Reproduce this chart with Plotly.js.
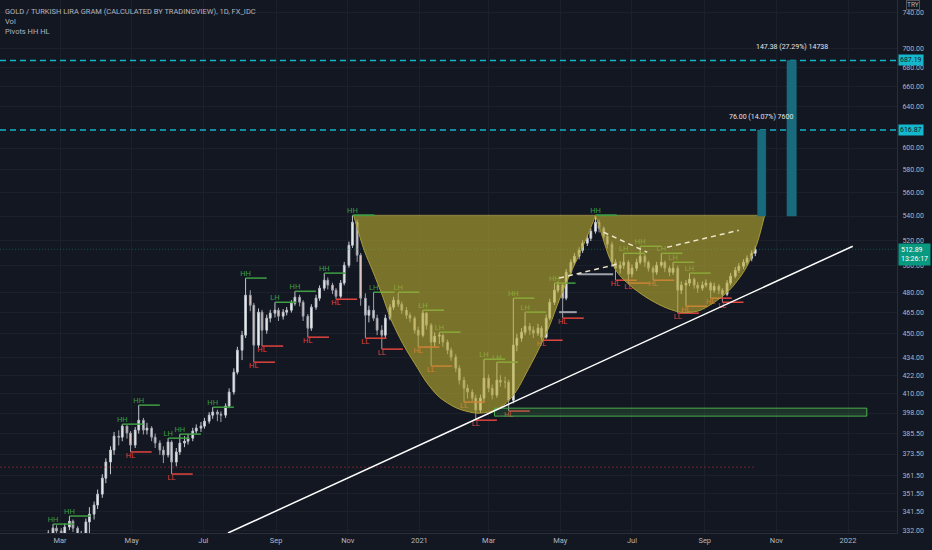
<!DOCTYPE html>
<html><head><meta charset="utf-8">
<script src="https://cdn.plot.ly/plotly-3.0.1.min.js"></script>
<style>html,body{margin:0;padding:0;background:#131722;}#chart{width:932px;height:550px;}</style>
</head><body><div id="chart"></div>
<script>
// ---------- DATA ----------
const firstCandleDate = '2020-02-17'; // candles sampled Mon/Thu
const openP = [324.0,327.0,330.5,333.0,331.5,330.0,333.6,336.6,333.0,327.0,
329.0,336.2,340.3,345.1,351.0,359.8,368.9,375.8,384.0,383.4,
390.0,385.8,378.7,387.6,393.6,387.6,388.8,383.4,379.9,375.8,
373.0,380.5,368.9,374.7,379.9,381.0,382.8,387.0,388.8,390.0,
393.0,396.7,398.6,397.3,396.7,402.3,411.1,424.0,438.7,449.0,
477.7,470.3,442.1,465.3,452.5,461.0,464.6,466.7,462.4,465.3,
466.7,471.8,476.2,472.5,462.4,453.9,468.9,475.5,482.9,488.9,
485.2,481.4,476.9,486.7,500.4,516.1,534.8,508.2,475.5,463.1,
466.7,461.0,452.5,449.0,461.0,468.9,474.0,471.1,466.7,463.1,
461.0,452.5,449.0,464.6,456.0,444.2,448.3,449.0,444.2,438.7,
434.0,426.6,418.8,413.6,411.1,407.3,399.8,407.3,420.1,413.6,
409.2,418.8,417.5,417.5,406.0,442.1,446.9,451.1,455.3,452.5,
450.4,453.9,447.6,461.0,472.5,481.4,485.2,475.5,495.0,502.7,
507.4,512.1,517.7,521.7,527.4,534.8,529.9,523.4,516.9,502.7,
498.1,500.4,502.7,493.5,498.1,502.7,507.4,502.7,498.1,495.0,
500.4,502.7,498.1,495.0,498.1,481.4,485.2,486.7,489.7,485.2,
482.9,485.2,486.7,481.4,484.4,481.4,478.4,486.7,492.0,496.5,
499.6,502.7,505.8,509.7];
const highP = [329.5,332.0,335.1,334.5,333.0,335.5,339.3,337.5,334.0,331.5,
338.0,344.0,347.0,353.5,362.0,371.0,378.0,386.5,387.5,391.2,
390.5,387.0,389.5,402.9,395.0,392.0,390.0,385.5,381.5,378.0,
382.8,381.5,377.0,385.2,384.0,385.0,389.0,391.0,392.5,395.0,
398.5,401.6,400.0,399.0,404.0,413.5,426.5,441.0,452.0,490.5,
481.4,472.0,468.0,467.0,463.5,467.0,472.5,468.5,467.5,469.0,
474.0,480.6,478.0,474.0,464.0,471.0,478.0,485.0,494.3,491.0,
487.0,483.0,489.0,503.0,519.0,540.6,537.0,510.0,479.0,470.0,
479.9,463.5,456.0,463.5,471.0,476.5,479.9,473.0,469.0,465.0,
462.5,455.0,466.7,465.5,457.5,451.0,451.1,450.0,446.0,440.5,
436.0,428.5,421.0,416.0,413.0,409.5,409.5,432.6,422.5,416.0,
430.6,422.0,421.0,419.0,475.5,450.0,454.0,465.3,457.5,455.0,
457.0,455.5,463.5,475.0,486.7,488.0,486.5,497.5,505.0,510.0,
514.5,520.0,524.5,530.0,540.6,537.0,531.5,525.0,519.0,505.0,
503.5,509.7,504.5,501.0,505.5,515.3,509.0,504.0,500.0,503.0,
509.7,504.0,500.0,502.7,500.0,488.0,489.0,494.3,491.0,487.5,
488.0,489.5,488.0,487.0,486.0,483.0,489.0,494.5,499.0,502.0,
505.0,508.0,512.0,515.5];
const lowP = [322.5,325.5,329.0,329.5,326.5,328.5,332.0,331.0,321.0,323.0,
327.5,330.5,337.5,343.0,349.0,357.0,362.0,373.0,378.5,381.0,
382.5,374.7,377.0,385.5,385.0,385.0,381.0,377.0,373.0,368.3,
371.5,362.1,366.5,373.0,377.5,379.0,381.0,385.5,386.5,388.5,
391.5,394.5,393.0,392.5,395.0,401.0,409.5,422.5,432.0,447.0,
466.0,430.6,440.0,441.5,450.0,458.0,461.5,459.0,460.0,463.0,
465.0,470.0,469.5,459.0,447.6,452.0,467.0,473.5,481.0,482.0,
478.5,474.7,475.5,485.0,498.5,514.0,503.0,470.0,446.9,458.0,
459.0,449.0,439.4,447.0,459.5,467.0,469.0,464.0,460.5,458.0,
450.0,440.8,447.5,453.0,428.0,441.0,443.0,441.0,436.0,431.5,
424.0,416.0,404.8,407.0,405.5,393.6,398.0,405.5,411.0,406.5,
407.5,414.5,413.5,399.2,404.0,438.0,444.5,449.0,449.0,447.0,
448.5,445.5,446.5,459.5,470.5,479.5,461.0,474.0,493.0,500.5,
505.0,510.0,515.5,519.5,525.5,526.5,520.5,513.5,499.0,488.9,
494.0,497.5,486.7,491.0,496.0,501.0,499.0,495.5,488.9,493.0,
498.5,495.0,492.0,493.0,464.6,478.5,469.6,484.5,482.5,479.5,
481.0,483.5,475.5,479.5,478.5,472.5,477.0,485.0,490.5,494.5,
497.5,500.5,503.5,507.5];
const closeP = [327.0,330.5,333.0,331.5,330.0,333.6,336.6,333.0,327.0,329.0,
336.2,340.3,345.1,351.0,359.8,368.9,375.8,384.0,383.4,390.0,
385.8,378.7,387.6,393.6,387.6,388.8,383.4,379.9,375.8,373.0,
380.5,368.9,374.7,379.9,381.0,382.8,387.0,388.8,390.0,393.0,
396.7,398.6,397.3,396.7,402.3,411.1,424.0,438.7,449.0,477.7,
470.3,442.1,465.3,452.5,461.0,464.6,466.7,462.4,465.3,466.7,
471.8,476.2,472.5,462.4,453.9,468.9,475.5,482.9,488.9,485.2,
481.4,476.9,486.7,500.4,516.1,534.8,508.2,475.5,463.1,466.7,
461.0,452.5,449.0,461.0,468.9,474.0,471.1,466.7,463.1,461.0,
452.5,449.0,464.6,456.0,444.2,448.3,449.0,444.2,438.7,434.0,
426.6,418.8,413.6,411.1,407.3,399.8,407.3,420.1,413.6,409.2,
418.8,417.5,417.5,406.0,442.1,446.9,451.1,455.3,452.5,450.4,
453.9,447.6,461.0,472.5,481.4,485.2,475.5,495.0,502.7,507.4,
512.1,517.7,521.7,527.4,534.8,529.9,523.4,516.9,502.7,498.1,
500.4,502.7,493.5,498.1,502.7,507.4,502.7,498.1,495.0,500.4,
502.7,498.1,495.0,498.1,481.4,485.2,486.7,489.7,485.2,482.9,
485.2,486.7,481.4,484.4,481.4,478.4,486.7,492.0,496.5,499.6,
502.7,505.8,509.7,512.89];

const pivotDates = ['2020-02-24','2020-03-09','2020-04-23','2020-04-30','2020-05-07','2020-06-01','2020-06-04','2020-06-11','2020-07-09','2020-08-06','2020-08-13','2020-08-20','2020-08-31','2020-09-17','2020-09-28','2020-10-12','2020-10-22','2020-11-05','2020-11-16','2020-11-23','2020-11-30','2020-12-14','2020-12-31','2021-01-04','2021-01-11','2021-01-18','2021-02-08','2021-02-18','2021-02-25','2021-03-08','2021-03-18','2021-03-22','2021-04-01','2021-04-15','2021-04-26','2021-05-03','2021-05-31','2021-06-17','2021-06-24','2021-06-28','2021-07-08','2021-07-19','2021-07-26','2021-08-05','2021-08-09','2021-08-16','2021-08-19','2021-09-06','2021-09-16'];
const pivotPrices = [335.1,339.3,391.2,374.7,402.9,382.8,362.1,385.2,401.6,490.5,430.6,441.5,472.5,480.6,447.6,494.3,474.7,540.6,446.9,479.9,439.4,479.9,440.8,466.7,428.0,451.1,404.8,393.6,432.6,430.6,399.2,475.5,465.3,445.5,486.7,461.0,540.6,488.9,509.7,486.7,515.3,488.9,509.7,502.7,464.6,469.6,494.3,475.5,472.5];
const pivotLabels = ['HH','HH','HH','HL','HH','LH','LL','HH','HH','HH','HL','HL','LH','HH','HL','HH','HL','HH','LL','LH','LL','LH','HL','LH','LL','LH','LL','LL','LH','LH','HL','HH','LH','HL','HH','HL','HH','HL','LH','LL','HH','HL','LH','LH','LL','HL','LH','HL','LL'];

// cup & handle drawing (outline points)
const cupDates = ['2020-11-06','2020-11-15','2020-11-22','2020-12-01','2020-12-07','2020-12-15','2020-12-21','2020-12-30','2021-01-07','2021-01-18','2021-02-02','2021-02-19','2021-03-04','2021-03-16','2021-03-25','2021-04-02','2021-04-11','2021-04-22','2021-04-30','2021-05-09','2021-05-18','2021-05-26','2021-05-31'];
const cupPrices = [540.6,512.1,496.5,476.2,461.7,447.6,438.7,427.3,417.5,407.9,401.0,397.9,399.2,404.2,412.3,423.4,436.7,456.0,474.0,492.8,510.5,528.2,540.6];
const handleDates = ['2021-05-31','2021-06-06','2021-06-12','2021-06-19','2021-06-29','2021-07-13','2021-07-27','2021-08-11','2021-08-26','2021-09-08','2021-09-22','2021-10-05','2021-10-15','2021-10-22'];
const handlePrices = [540.6,522.6,505.8,494.3,485.2,476.2,469.6,465.3,466.0,471.8,481.4,496.5,516.1,540.6];

// handle dashed guides
const dashSegDates = [['2021-04-30','2021-06-18'],['2021-06-07','2021-07-14'],['2021-07-31','2021-09-30']];
const dashSegPrices = [[490.5,501.1],[526.6,510.5],[514.5,528.2]];
// grey pivot levels
const greySegDates = [['2021-05-16','2021-06-15'],['2021-04-30','2021-05-15']];
const greySegPrices = [493.5, 465.3];

// trend line, support zone
const trendDates = ['2020-07-22','2022-01-05'];
const trendPrices = [330.5, 515.3];
const zoneDates = ['2021-03-06','2022-01-17'];
const zonePrices = [396.1, 401.0];
const lowLevel = 366.0;

// projections
const projBase = 540.0;
const projTargets = [616.87, 687.19];
const projBarDates = [['2021-10-16','2021-10-23'],['2021-11-10','2021-11-18']];
const projLabels = ['76.00 (14.07%) 7600','147.38 (27.29%) 14738'];
const projLabelDates = ['2021-10-19','2021-11-14'];

// axes
const xTickVals = ['2020-03-01','2020-05-01','2020-07-01','2020-09-01','2020-11-01','2021-01-01','2021-03-01','2021-05-01','2021-07-01','2021-09-01','2021-11-01','2022-01-01'];
const xTickText = ['Mar','May','Jul','Sep','Nov','2021','Mar','May','Jul','Sep','Nov','2022'];
const yTickVals = [332,341.5,351.5,361.5,373.5,385.5,398,410,422,434,450,465,480,500,520,540,560,580,600,640,660,680,700,740];
const clockText = '13:26:17';

// ---------- BUILD ----------
const DAY = 86400000;
const N = closeP.length;
const d0 = Date.parse(firstCandleDate + 'T00:00:00Z');
const dates = [];
for (let i = 0; i < N; i++) {
  const off = Math.floor(i / 2) * 7 + (i % 2) * 3;
  dates.push(new Date(d0 + off * DAY).toISOString().slice(0, 10));
}
function addDays(s, n) { return new Date(Date.parse(s + 'T00:00:00Z') + n * DAY).toISOString().slice(0, 10); }
const lastDate = dates[N - 1];
const lastPrice = closeP[N - 1];
const xStart = '2020-01-09 21:00', xEnd = '2022-02-11 17:00';
const FONT = 'Roboto, "DejaVu Sans", sans-serif';
const TXT = '#b2b5be';
const GREEN = '#3f9e44', RED = '#e0443e';

const traces = [];
const sk = {hoverinfo: 'skip', showlegend: false};

// red low level dotted, price line
traces.push(Object.assign({type: 'scatter', mode: 'lines', x: [xStart, lastDate], y: [lowLevel, lowLevel],
  line: {color: 'rgba(190,45,55,0.55)', width: 1, dash: '2px,2px'}}, sk));
traces.push(Object.assign({type: 'scatter', mode: 'lines', x: [xStart, xEnd], y: [lastPrice, lastPrice],
  line: {color: 'rgba(8,153,129,0.45)', width: 1, dash: '1px,2px'}}, sk));

// candles
traces.push(Object.assign({type: 'candlestick', x: dates, open: openP, high: highP, low: lowP, close: closeP,
  increasing: {line: {color: '#c3c7ce', width: 1}, fillcolor: '#eef8f6'},
  decreasing: {line: {color: '#9da1a9', width: 1}, fillcolor: '#f3d3cc'}}, sk));

// grey pivot levels
greySegDates.forEach((d, i) => traces.push(Object.assign({type: 'scatter', mode: 'lines', x: d, y: [greySegPrices[i], greySegPrices[i]],
  line: {color: '#9ea2aa', width: 2}}, sk)));

// pivot lines & labels
function pivotSet(isHigh) {
  const xs = [], ys = [], tx = [], ty = [], tt = [];
  pivotLabels.forEach((l, i) => {
    const h = l.endsWith('H');
    if (h !== isHigh) return;
    xs.push(pivotDates[i], addDays(pivotDates[i], 18), null);
    ys.push(pivotPrices[i], pivotPrices[i], null);
    tx.push(pivotDates[i]); ty.push(pivotPrices[i]); tt.push(l);
  });
  return {xs, ys, tx, ty, tt};
}
[true, false].forEach(isHigh => {
  const s = pivotSet(isHigh);
  const col = isHigh ? GREEN : RED;
  traces.push(Object.assign({type: 'scatter', mode: 'lines', x: s.xs, y: s.ys, line: {color: col, width: 1.5}, connectgaps: false}, sk));
  traces.push(Object.assign({type: 'scatter', mode: 'text', x: s.tx, y: s.ty, text: s.tt,
    textposition: isHigh ? 'top center' : 'bottom center', textfont: {family: FONT, size: 7.5, color: col}}, sk));
});

// cup & handle fills
const FILL = 'rgba(190,175,50,0.6)';
traces.push(Object.assign({type: 'scatter', mode: 'lines', x: cupDates, y: cupPrices, fill: 'toself', fillcolor: FILL,
  line: {color: '#a99b3a', width: 1, shape: 'spline', smoothing: 0.8}}, sk));
traces.push(Object.assign({type: 'scatter', mode: 'lines', x: handleDates, y: handlePrices, fill: 'toself', fillcolor: FILL,
  line: {color: '#a99b3a', width: 1, shape: 'spline', smoothing: 0.8}}, sk));
traces.push(Object.assign({type: 'scatter', mode: 'lines', x: [cupDates[0], handleDates[handleDates.length - 1]], y: [cupPrices[0], handlePrices[handlePrices.length - 1]],
  line: {color: 'rgba(150,140,70,0.9)', width: 1}}, sk));
// green HH marks at rims (drawn on top)
[[cupDates[0], cupPrices[0]], [handleDates[0], handlePrices[0]]].forEach(p => traces.push(Object.assign({type: 'scatter', mode: 'lines',
  x: [p[0], addDays(p[0], 18)], y: [p[1], p[1]], line: {color: GREEN, width: 1.5}}, sk)));

// dashed guides in handle
dashSegDates.forEach((d, i) => traces.push(Object.assign({type: 'scatter', mode: 'lines', x: d, y: dashSegPrices[i],
  line: {color: '#ece7c9', width: 1.5, dash: '5px,4px'}}, sk)));

// support zone
traces.push(Object.assign({type: 'scatter', mode: 'lines', fill: 'toself', fillcolor: 'rgba(76,175,80,0.18)',
  x: [zoneDates[0], zoneDates[1], zoneDates[1], zoneDates[0], zoneDates[0]],
  y: [zonePrices[0], zonePrices[0], zonePrices[1], zonePrices[1], zonePrices[0]],
  line: {color: '#4caf50', width: 1}}, sk));

// trend line
traces.push(Object.assign({type: 'scatter', mode: 'lines', x: trendDates, y: trendPrices, line: {color: '#ffffff', width: 1.5}}, sk));

// projection targets
projTargets.forEach(t => traces.push(Object.assign({type: 'scatter', mode: 'lines', x: [xStart, xEnd], y: [t, t],
  line: {color: '#14b3c8', width: 1.5, dash: '6px,4px'}}, sk)));
projBarDates.forEach((d, i) => traces.push(Object.assign({type: 'scatter', mode: 'lines', fill: 'toself', fillcolor: '#186b7c',
  x: [d[0], d[1], d[1], d[0], d[0]], y: [projBase, projBase, projTargets[i], projTargets[i], projBase],
  line: {color: '#186b7c', width: 0.5}}, sk)));

// ---------- ANNOTATIONS ----------
const ann = [];
const lg = Math.log10;
ann.push({xref: 'paper', yref: 'paper', x: 0, y: 1, xanchor: 'left', yanchor: 'top', xshift: 3, yshift: -5, showarrow: false,
  text: 'GOLD / TURKISH LIRA GRAM (CALCULATED BY TRADINGVIEW), 1D, FX_IDC', font: {family: FONT, size: 7.5, color: TXT}});
ann.push({xref: 'paper', yref: 'paper', x: 0, y: 1, xanchor: 'left', yanchor: 'top', xshift: 3, yshift: -15, showarrow: false,
  text: 'Vol', font: {family: FONT, size: 7.5, color: TXT}});
ann.push({xref: 'paper', yref: 'paper', x: 0, y: 1, xanchor: 'left', yanchor: 'top', xshift: 3, yshift: -25, showarrow: false,
  text: 'Pivots HH HL', font: {family: FONT, size: 7.5, color: TXT}});
projTargets.forEach((t, i) => {
  ann.push({xref: 'x', yref: 'y', x: projLabelDates[i], y: lg(t), yshift: 13, showarrow: false,
    text: projLabels[i], font: {family: FONT, size: 7, color: '#e0e3eb'}});
  ann.push({xref: 'paper', yref: 'y', x: 1, y: lg(t), xanchor: 'left', xshift: 1, showarrow: false,
    text: t.toFixed(2), bgcolor: '#14b8cc', borderpad: 1, font: {family: FONT, size: 7, color: '#131722'}});
});
ann.push({xref: 'paper', yref: 'y', x: 1, y: lg(lastPrice), xanchor: 'left', yanchor: 'top', xshift: 1, yshift: 6, showarrow: false,
  text: lastPrice.toFixed(2) + '<br>' + clockText, align: 'left', bgcolor: '#089981', borderpad: 2,
  font: {family: FONT, size: 7, color: '#ffffff'}});
ann.push({xref: 'paper', yref: 'paper', x: 1, y: 1, xanchor: 'left', yanchor: 'top', xshift: 9, yshift: 0, showarrow: false,
  text: 'TRY', bgcolor: '#131722', bordercolor: '#50535e', borderwidth: 1, borderpad: 0, font: {family: FONT, size: 6.5, color: TXT}});

const layout = {
  width: 932, height: 550,
  margin: {l: 0, r: 35, t: 0, b: 17, pad: 0},
  paper_bgcolor: '#131722', plot_bgcolor: '#131722',
  showlegend: false, hovermode: false, dragmode: false,
  font: {family: FONT, color: TXT},
  xaxis: {type: 'date', range: [xStart, xEnd], tickmode: 'array', tickvals: xTickVals, ticktext: xTickText,
    showgrid: true, gridcolor: '#1c202b', gridwidth: 1, zeroline: false, ticks: '',
    showline: true, linecolor: '#2a2e39', linewidth: 1,
    tickfont: {family: FONT, size: 7.5, color: TXT}, rangeslider: {visible: false}, fixedrange: true},
  yaxis: {type: 'log', side: 'right', range: [lg(330.5), lg(754.6)], tickmode: 'array', tickvals: yTickVals,
    ticktext: yTickVals.map(v => v.toFixed(2)), showgrid: true, gridcolor: '#1c202b', gridwidth: 1, zeroline: false,
    ticks: 'outside', ticklen: 3, tickcolor: '#131722',
    showline: true, linecolor: '#2a2e39', linewidth: 1,
    tickfont: {family: FONT, size: 7, color: TXT}, fixedrange: true},
  annotations: ann
};
Plotly.newPlot('chart', traces, layout, {displayModeBar: false, staticPlot: true});
</script>
</body></html>
